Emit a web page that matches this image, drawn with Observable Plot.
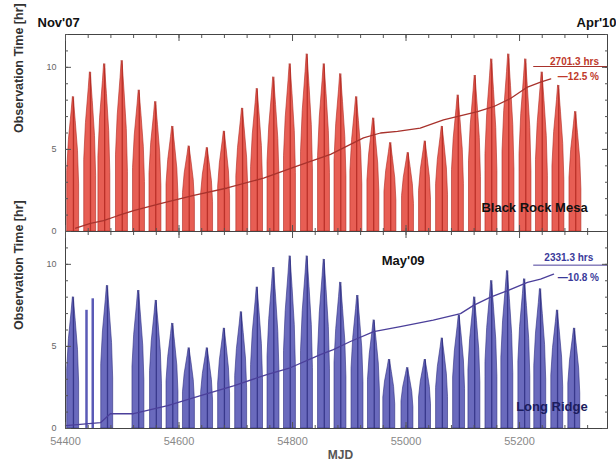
<!DOCTYPE html>
<html><head><meta charset="utf-8">
<script src="https://cdn.jsdelivr.net/npm/d3@7"></script>
<script src="https://cdn.jsdelivr.net/npm/@observablehq/plot@0.6"></script>
<style>
html,body{margin:0;padding:0;background:#fff;}
#chart{position:relative;width:616px;height:468px;}
svg{font-family:"Liberation Sans",Arial,sans-serif;}
</style></head>
<body><div id="chart"></div>
<script>
// ---- data ----
const sites = ["Black Rock Mesa", "Long Ridge"];
const xTicks = [54400, 54600, 54800, 55000, 55200];
const yTicks = [0, 5, 10];

// monthly dark-run peaks (MJD, hours per night)
const brmPeakMJD = [54414,54444,54469,54500,54530,54559,54589,54618,54650,54680,54712,54738,54767,54796,54826,54856,54885,54913,54943,54973,55004,55034,55064,55092,55122,55151,55181,55211,55240,55269,55299];
const brmPeakHr  = [8.2,9.7,10.2,10.4,8.6,7.9,6.4,5.2,5.1,6.1,7.5,8.7,9.4,10.2,10.8,10.2,9.6,8.2,6.9,5.4,4.8,5.5,6.4,8.3,9.5,10.5,10.8,10.5,9.7,8.9,7.3];

const lrPeakMJD = [54414,54474,54529,54560,54589,54618,54650,54680,54710,54738,54767,54796,54826,54856,54885,54915,54944,54971,55003,55034,55064,55094,55121,55151,55179,55209,55237,55267,55297];
const lrPeakHr  = [8.0,8.7,8.4,7.8,6.4,4.9,4.9,6.1,7.1,8.6,9.8,10.5,10.5,10.3,8.9,8.1,6.6,4.2,3.7,4.2,5.5,6.9,8.0,9.0,9.6,9.1,8.5,7.2,6.1];
const lrSingleMJD = [54437, 54448];
const lrSingleHr  = [7.2, 7.9];

// cumulative exposure curves (scaled)
const brmCumMJD = [54418,54444,54467,54492,54520,54567,54626,54685,54749,54809,54867,54925,54955,54985,55025,55066,55126,55154,55184,55214,55237,55255];
const brmCumVal = [0.2,0.5,0.66,0.96,1.27,1.7,2.2,2.65,3.25,4.0,4.7,5.7,6.0,6.1,6.3,6.8,7.3,7.6,8.1,8.8,9.1,9.3];
const lrCumMJD = [54400,54462,54479,54520,54580,54638,54696,54756,54796,54849,54872,54902,54943,54990,55048,55096,55119,55149,55179,55214,55237,55260];
const lrCumVal = [0.18,0.36,0.9,0.9,1.4,2.0,2.6,3.3,3.7,4.5,4.8,5.3,5.9,6.2,6.6,7.0,7.5,8.0,8.4,8.9,9.1,9.4];

const totals = ["2701.3 hrs", "2331.3 hrs"];
const percents = ["12.5 %", "10.8 %"];
const dateLabels = ["Nov'07", "Apr'10", "May'09"];

// ---- build tables ----
const shapeDx = [-11, -11, -8, -3, -1, 1, 4, 8, 10, 10];
const shapeK  = [0, 0.45, 0.68, 0.9, 1, 0.97, 0.82, 0.6, 0.35, 0];
function clusters(site, mjd, hr) {
  const out = [];
  mjd.forEach((m, i) => shapeDx.forEach((d, j) => out.push({site, c: site + i, x: m + d, y: hr[i] * shapeK[j]})));
  return out;
}
const brmArea = clusters(sites[0], brmPeakMJD, brmPeakHr);
const lrArea = clusters(sites[1], lrPeakMJD, lrPeakHr);
const brmPeaks = brmPeakMJD.map((x, i) => ({site: sites[0], x, y: brmPeakHr[i]}));
const lrPeaks = lrPeakMJD.map((x, i) => ({site: sites[1], x, y: lrPeakHr[i]}));
const lrSingles = lrSingleMJD.map((x, i) => ({site: sites[1], x, y: lrSingleHr[i]}));
const brmCum = brmCumMJD.map((x, i) => ({site: sites[0], x, y: brmCumVal[i]}));
const lrCum = lrCumMJD.map((x, i) => ({site: sites[1], x, y: lrCumVal[i]}));

const RED_FILL = "#e4483c", RED_CORE = "#b0261e", RED_LINE = "#a8322c", RED_TXT = "#c0392b";
const BLUE_FILL = "#5a5ab6", BLUE_CORE = "#2c2c80", BLUE_LINE = "#4b3f9a", BLUE_TXT = "#3a3a9a";

const minorX = d3.range(54400, 55360, 40);
const minorY = d3.range(0, 13, 1);

const plot = Plot.plot({
  width: 616, height: 468,
  marginTop: 33, marginBottom: 40, marginLeft: 65, marginRight: 9,
  style: {background: "#fff", fontFamily: "Liberation Sans, Arial, sans-serif"},
  x: {domain: [54400, 55355]},
  y: {domain: [0, 12]},
  fy: {domain: sites, padding: 0, axis: null},
  marks: [
    Plot.areaY(brmArea, {x: "x", y: "y", z: "c", fy: "site", fill: RED_FILL, fillOpacity: 0.88, stroke: RED_CORE, strokeWidth: 0.6}),
    Plot.ruleX(brmPeaks, {x: "x", y1: 0, y2: "y", fy: "site", stroke: RED_CORE, strokeWidth: 1.3, strokeOpacity: 0.8}),
    Plot.areaY(lrArea, {x: "x", y: "y", z: "c", fy: "site", fill: BLUE_FILL, fillOpacity: 0.9, stroke: BLUE_CORE, strokeWidth: 0.6}),
    Plot.ruleX(lrPeaks, {x: "x", y1: 0, y2: "y", fy: "site", stroke: BLUE_CORE, strokeWidth: 1.3, strokeOpacity: 0.8}),
    Plot.ruleX(lrSingles, {x: "x", y1: 0, y2: "y", fy: "site", stroke: BLUE_FILL, strokeWidth: 2.5}),
    Plot.line(brmCum, {x: "x", y: "y", fy: "site", stroke: RED_LINE, strokeWidth: 1.3}),
    Plot.line(lrCum, {x: "x", y: "y", fy: "site", stroke: BLUE_LINE, strokeWidth: 1.3}),
    // totals annotations
    Plot.ruleY([{site: sites[0], y: 10.05}], {y: "y", x1: 55225, x2: 55355, fy: "site", stroke: RED_LINE, strokeWidth: 1}),
    Plot.ruleY([{site: sites[1], y: 9.95}], {y: "y", x1: 55225, x2: 55355, fy: "site", stroke: BLUE_LINE, strokeWidth: 1}),
    Plot.text([{site: sites[0], t: totals[0]}], {fy: "site", text: "t", x: 55340, y: 10.35, textAnchor: "end", fill: RED_TXT, fontSize: 10, fontWeight: "bold"}),
    Plot.text([{site: sites[0], t: "\u2014" + percents[0]}], {fy: "site", text: "t", x: 55340, y: 9.45, textAnchor: "end", fill: RED_TXT, fontSize: 10, fontWeight: "bold"}),
    Plot.text([{site: sites[1], t: totals[1]}], {fy: "site", text: "t", x: 55330, y: 10.4, textAnchor: "end", fill: BLUE_TXT, fontSize: 10, fontWeight: "bold"}),
    Plot.text([{site: sites[1], t: "\u2014" + percents[1]}], {fy: "site", text: "t", x: 55340, y: 9.2, textAnchor: "end", fill: BLUE_TXT, fontSize: 10, fontWeight: "bold"}),
    // site names
    Plot.text([{site: sites[0]}], {fy: "site", text: "site", x: 55320, y: 1.45, textAnchor: "end", fill: "#111", fontSize: 13, fontWeight: "bold"}),
    Plot.text([{site: sites[1]}], {fy: "site", text: "site", x: 55320, y: 1.3, textAnchor: "end", fill: "#1c1c5e", fontSize: 13, fontWeight: "bold"}),
    // dates
    Plot.text([{site: sites[0], t: dateLabels[0]}], {fy: "site", text: "t", x: 54400, y: 12, dx: -28, dy: -12, textAnchor: "start", fill: "#111", fontSize: 13, fontWeight: "bold"}),
    Plot.text([{site: sites[0], t: dateLabels[1]}], {fy: "site", text: "t", x: 55355, y: 12, dx: 9, dy: -12, textAnchor: "end", fill: "#111", fontSize: 13, fontWeight: "bold"}),
    Plot.text([{site: sites[1], t: dateLabels[2]}], {fy: "site", text: "t", x: 54995, y: 10.2, textAnchor: "middle", fill: "#111", fontSize: 13, fontWeight: "bold"}),
    // y titles
    Plot.text(sites.map(site => ({site})), {fy: "site", text: () => "Observation Time [hr]", frameAnchor: "left", dx: -47, rotate: -90, fill: "#333", fontSize: 12.5, fontWeight: "bold"}),
    // frame and ticks
    Plot.frame({stroke: "#444", strokeWidth: 1}),
    Plot.axisY({anchor: "left", ticks: minorY, tickSize: -3, tickFormat: () => "", label: null, facetAnchor: null, stroke: "#555"}),
    Plot.axisY({anchor: "left", ticks: yTicks, tickSize: -6, tickFormat: () => "", label: null, facetAnchor: null, stroke: "#555"}),
    Plot.axisY({anchor: "right", ticks: minorY, tickSize: -3, tickFormat: () => "", label: null, facetAnchor: null, stroke: "#555"}),
    Plot.axisY({anchor: "right", ticks: yTicks, tickSize: -6, tickFormat: () => "", label: null, facetAnchor: null, stroke: "#555"}),
    Plot.axisY({anchor: "left", ticks: yTicks, tickSize: 0, tickPadding: 9, label: null, facetAnchor: null, fill: "#666", fontSize: 9}),
    Plot.axisX({anchor: "top", ticks: minorX, tickSize: -3, tickFormat: () => "", label: null, facetAnchor: null, stroke: "#555"}),
    Plot.axisX({anchor: "top", ticks: xTicks, tickSize: -6, tickFormat: () => "", label: null, facetAnchor: null, stroke: "#555"}),
    Plot.axisX({anchor: "bottom", ticks: minorX, tickSize: -3, tickFormat: () => "", label: null, facetAnchor: null, stroke: "#555"}),
    Plot.axisX({anchor: "bottom", ticks: xTicks, tickSize: -6, tickFormat: () => "", label: null, facetAnchor: null, stroke: "#555"}),
    Plot.axisX({anchor: "bottom", ticks: xTicks, tickSize: 0, tickPadding: 9, tickFormat: d3.format("d"), label: null, fill: "#888", fontSize: 11}),
    Plot.text([{site: sites[1]}], {fy: "site", text: () => "MJD", frameAnchor: "bottom", dx: 4, dy: 30, fill: "#555", fontSize: 12, fontWeight: "bold"})
  ]
});
document.getElementById("chart").appendChild(plot);
</script>
</body></html>
